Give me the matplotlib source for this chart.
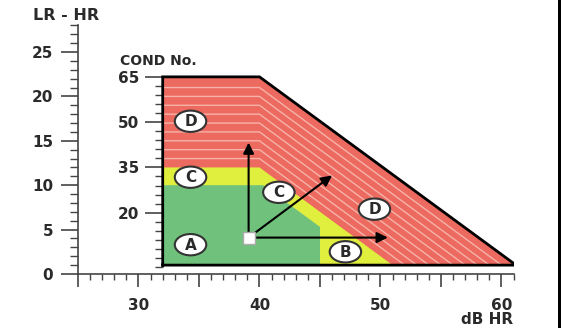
import numpy as np
import matplotlib.pyplot as plt
from matplotlib.patches import Ellipse, Rectangle
from matplotlib.ticker import MultipleLocator, FixedLocator, FuncFormatter

plt.rcParams['font.family'] = ['DejaVu Sans']
plt.rcParams['font.weight'] = 'bold'

# zones (dB HR on x, LR - HR on y)
red_x = [32, 32, 40, 61.2]
red_y = [1, 22.2, 22.2, 1]
yellow_x = [32, 32, 40, 51]
yellow_y = [1, 12, 12, 1]
green_x = [32, 32, 40.3, 45, 45]
green_y = [1, 10, 10, 5.3, 1]

# white stripe levels inside the red zone
stripe_levels = [13, 14, 15, 16, 17, 18, 19, 20, 21]

# circled zone letters
zone_labels = ['D', 'C', 'A', 'C', 'D', 'B']
zone_lx = [34.3, 34.3, 34.3, 41.6, 49.5, 47.1]
zone_ly = [17.2, 10.9, 3.3, 9.2, 7.3, 2.5]

# arrows from the start point
origin = (39.1, 4.1)
arrow_ends_x = [39.1, 50.6, 46.0]
arrow_ends_y = [14.8, 4.1, 11.1]

# COND No. scale against LR - HR
cond_ticks = [20, 35, 50, 65]
cond_minor = [2, 5, 8, 11, 14, 17, 23, 26, 29, 32, 38, 41, 44, 47, 53, 56, 59, 62]

RED = '#ec6a5f'
YELLOW = '#e0ef3e'
GREEN = '#70c17c'
STRIPE = '#f7b3aa'
TXT = '#2a2a2a'

fig = plt.figure(figsize=(5.61, 3.28), dpi=100)
ax = fig.add_axes([78 / 561, 54 / 328, 36 * 12.1 / 561, 28 * 8.88 / 328])
ax.set_xlim(25, 61)
ax.set_ylim(0, 28)

ax.fill(red_x, red_y, color=RED, lw=0, zorder=1)
for c in stripe_levels:
    ax.plot([32, 40, 40 + (c - 1)], [c, c, 1], color=STRIPE, lw=1.0, zorder=2)
ax.fill(yellow_x, yellow_y, color=YELLOW, lw=0, zorder=3)
ax.fill(green_x, green_y, color=GREEN, lw=0, zorder=4)
ax.plot(red_x + [red_x[0]], red_y + [red_y[0]], color='black', lw=2,
        solid_joinstyle='miter', zorder=5)

for lab, x, y in zip(zone_labels, zone_lx, zone_ly):
    ax.add_patch(Ellipse((x, y), 2.6, 2.4, facecolor='white', edgecolor='#333333',
                         lw=1.5, zorder=6))
    ax.text(x, y - 0.05, lab, ha='center', va='center', fontsize=11,
            fontweight='bold', color=TXT, zorder=7)

for ex, ey in zip(arrow_ends_x, arrow_ends_y):
    ax.annotate('', xy=(ex, ey), xytext=origin,
                arrowprops=dict(arrowstyle='-|>', color='black', lw=1.5,
                                mutation_scale=16, shrinkA=0, shrinkB=0),
                zorder=8)
ax.plot(*origin, marker='s', ms=8, mfc='white', mec='#aaaaaa', mew=1, zorder=9)

# main axes
for s in ['top', 'right']:
    ax.spines[s].set_visible(False)
for s in ['left', 'bottom']:
    ax.spines[s].set_color('#444444')
    ax.spines[s].set_linewidth(1.2)

ax.xaxis.set_major_locator(MultipleLocator(5))
ax.xaxis.set_minor_locator(MultipleLocator(1))
ax.xaxis.set_major_formatter(FuncFormatter(lambda v, p: f'{v:.0f}' if v % 10 == 0 else ''))
ax.yaxis.set_major_locator(MultipleLocator(5))
ax.yaxis.set_minor_locator(MultipleLocator(1))
ax.tick_params(axis='x', which='major', length=9, width=1.2, color='#444444',
               labelsize=11, labelcolor=TXT, pad=8)
ax.tick_params(axis='x', which='minor', length=4, width=1, color='#444444')
ax.tick_params(axis='y', which='major', length=12, width=1.2, color='#444444',
               labelsize=11, labelcolor=TXT, pad=6)
ax.tick_params(axis='y', which='minor', length=6, width=1, color='#444444')
for t in ax.get_xticklabels() + ax.get_yticklabels():
    t.set_fontweight('bold')

# COND No. scale on the zone's left edge
sec = ax.secondary_yaxis((32 - 25) / 36,
                         functions=(lambda lr: (lr - 0.1) / 0.34,
                                    lambda c: 0.34 * c + 0.1))
sec.spines['left'].set_visible(False)
sec.yaxis.set_major_locator(FixedLocator(cond_ticks))
sec.yaxis.set_minor_locator(FixedLocator(cond_minor))
sec.tick_params(axis='y', which='major', length=13, width=1.2, color='#444444',
                labelsize=11, labelcolor=TXT, pad=4)
sec.tick_params(axis='y', which='minor', length=6, width=1, color='#444444')
for t in sec.get_yticklabels():
    t.set_fontweight('bold')

fig.text(33 / 561, 1 - 16 / 328, 'LR - HR', fontsize=11.5, fontweight='bold',
         color=TXT, va='center', ha='left')
fig.text(120 / 561, 1 - 61 / 328, 'COND No.', fontsize=10, fontweight='bold',
         color=TXT, va='center', ha='left')
fig.text(513 / 561, 1 - 319 / 328, 'dB HR', fontsize=11, fontweight='bold',
         color=TXT, va='center', ha='right')

fig.patches.append(Rectangle((558 / 561, 0), 3 / 561, 1, transform=fig.transFigure,
                             facecolor='black', edgecolor='none'))

fig.savefig('out.png', dpi=100)
